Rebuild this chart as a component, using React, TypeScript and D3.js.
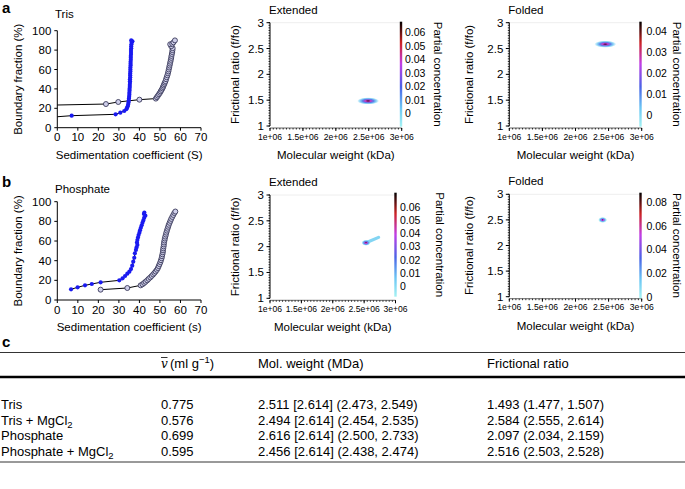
import React from "react";
import * as d3 from "d3";

const FONT = "'Liberation Sans', Arial, Helvetica, sans-serif";

// ---------- Sedimentation (boundary fraction) data ----------
const sTicks = [0, 10, 20, 30, 40, 50, 60, 70];
const fTicks = [0, 20, 40, 60, 80, 100];

const trisBlueIntercept = 11.3;
const trisOpenIntercept = 23.4;
const trisBlue: [number, number][] = [
  [7, 12.4], [28.4, 13.8], [30.7, 15.5], [32.6, 17.2], [33.6, 19], [34, 20.5], [34.3, 22], [34.5, 24],
  [34.7, 26], [34.8, 28], [34.9, 30], [35, 32], [35.1, 34], [35.1, 36], [35.2, 38], [35.2, 40],
  [35.3, 42], [35.3, 44], [35.4, 46], [35.4, 48], [35.4, 50], [35.5, 52], [35.5, 54], [35.5, 56],
  [35.6, 58], [35.6, 60], [35.6, 62], [35.7, 64], [35.7, 66], [35.7, 68], [35.8, 70], [35.8, 72],
  [35.8, 74], [35.9, 76], [35.9, 78], [35.9, 80], [36, 82], [36, 84], [36.1, 86], [36.3, 88],
  [36.6, 89], [36, 90],
];
const trisOpen: [number, number][] = [
  [23.7, 24.4], [29.7, 26.5], [40, 28.9], [48, 30], [48.5, 31.5], [49, 33], [49.5, 34.5], [50, 36],
  [50.4, 37.5], [50.8, 39], [51.2, 40.5], [51.5, 42], [51.8, 43.5], [52.1, 45], [52.4, 46.5],
  [52.7, 48], [53, 50], [53.3, 52], [53.6, 54], [53.9, 56], [54.1, 58], [54.3, 60], [54.5, 62],
  [54.7, 64], [54.9, 66], [55.1, 68], [55.3, 70], [55.5, 72], [55.6, 74], [55.8, 76], [56, 78],
  [56.1, 80], [56.2, 82], [55.5, 84], [55, 86], [56, 86.5], [56.6, 88], [57.3, 90],
];
const phosBlue: [number, number][] = [
  [6.7, 10.9], [9.9, 12.9], [13.5, 14.9], [16.8, 16.3], [21.1, 18], [30.2, 20], [31.8, 22],
  [33, 24.4], [34.1, 26.8], [35.1, 28.8], [35.9, 31.5], [36.5, 34.9], [37, 39], [37.5, 43],
  [37.8, 47.5], [38.3, 50.9], [38.6, 53.5], [39, 56], [38.8, 58.5], [39, 61], [39.3, 63.5],
  [39.6, 66], [40, 68.5], [40.3, 71], [40.7, 73.5], [41.1, 76], [41.5, 78.5], [41.9, 81],
  [42.3, 83.5], [42.9, 85.8], [42.2, 87.5], [42.4, 89],
];
const phosOpen: [number, number][] = [
  [21.1, 10.5], [34.1, 12.2], [40.6, 14.9], [41.5, 16], [42.3, 17.3], [43, 18.6], [43.8, 20],
  [44.5, 21.5], [45.3, 23], [46, 24.5], [46.7, 26], [47.3, 27.5], [47.9, 29], [48.5, 30.7],
  [49, 32.5], [49.4, 34.5], [49.8, 36.5], [50.2, 38.5], [50.5, 40.5], [50.8, 42.5], [51, 44.5],
  [51.2, 46.5], [51.4, 48.5], [51.5, 50.5], [51.6, 52.5], [51.8, 54.5], [51.9, 56.5], [52, 58.5],
  [52.2, 60.5], [52.4, 62.5], [52.6, 64.5], [52.9, 66.5], [53.1, 68.5], [53.4, 70.5], [53.7, 72.5],
  [54, 74.5], [54.3, 76.5], [54.7, 78.5], [55.1, 80.5], [55.5, 82.5], [56, 84.5], [56.5, 86.5],
  [57, 88.5], [57.5, 90],
];

// ---------- 2DSA pseudo-3D data ----------
const mwTicks = [1e6, 1.5e6, 2e6, 2.5e6, 3e6];
const mwTickLabels = ["1e+06", "1.5e+06", "2e+06", "2.5e+06", "3e+06"];
const ffTicks = [1, 1.5, 2, 2.5, 3];
const ffTickLabels = ["1", "1.5", "2", "2.5", "3"];

const spotMW = [2.49e6, 2.45e6, 2.53e6, 2.41e6];
const spotFF = [1.485, 2.585, 2.075, 2.5];
const spotPeak = [0.066, 0.043, 0.068, 0.085];
const phosExtRidgeMW = [2.53e6, 2.73e6];
const phosExtRidgeFF = [2.075, 2.18];

const cbMin = [-0.0099, -0.0056, -0.0081, -0.0014];
const cbMax = [0.0679, 0.0443, 0.0706, 0.0881];
const cbTicks = [
  [0, 0.01, 0.02, 0.03, 0.04, 0.05, 0.06],
  [0, 0.01, 0.02, 0.03, 0.04],
  [0, 0.01, 0.02, 0.03, 0.04, 0.05, 0.06],
  [0, 0.02, 0.04, 0.06, 0.08],
];
const cbTickLabels = [
  ["0", "0.01", "0.02", "0.03", "0.04", "0.05", "0.06"],
  ["0", "0.01", "0.02", "0.03", "0.04"],
  ["0", "0.01", "0.02", "0.03", "0.04", "0.05", "0.06"],
  ["0", "0.02", "0.04", "0.06", "0.08"],
];
const cmapStops = [0, 0.18, 0.38, 0.6, 0.8, 1];
const cmapColors = ["#a6f2f2", "#6cc6f4", "#4a63e6", "#c23ee6", "#cc2323", "#000000"];

// ---------- Table ----------
const tableRows = ["Tris", "Tris + MgCl", "Phosphate", "Phosphate + MgCl"];
const tableRowSub = [false, true, false, true];
const vbar = ["0.775", "0.576", "0.699", "0.595"];
const molWeight = [
  "2.511 [2.614] (2.473, 2.549)",
  "2.494 [2.614] (2.454, 2.535)",
  "2.616 [2.614] (2.500, 2.733)",
  "2.456 [2.614] (2.438, 2.474)",
];
const fricRatio = [
  "1.493 (1.477, 1.507)",
  "2.584 (2.555, 2.614)",
  "2.097 (2.034, 2.159)",
  "2.516 (2.503, 2.528)",
];

type SedProps = {
  top: number; bottom: number; title: string; xTitle: string; letter: string; letterY: number;
  titleY: number; blue: [number, number][]; open: [number, number][];
  blueStart?: number; openStart?: number;
};

function SedPlot(p: SedProps) {
  const x = d3.scaleLinear().domain([0, 70]).range([57.3, 201]);
  const y = d3.scaleLinear().domain([0, 100]).range([p.bottom, p.top]);
  const line = d3.line<[number, number]>().x((d) => x(d[0])).y((d) => y(d[1]));
  const bl: [number, number][] = p.blueStart !== undefined ? [[0, p.blueStart], ...p.blue] : p.blue;
  const ol: [number, number][] = p.openStart !== undefined ? [[0, p.openStart], ...p.open] : p.open;
  return (
    <g>
      <text x={2} y={p.letterY} fontSize={15} fontWeight="bold" fontFamily={FONT}>{p.letter}</text>
      <text x={55} y={p.titleY} fontSize={11.5} fontFamily={FONT}>{p.title}</text>
      <line x1={x(0)} x2={x(0)} y1={y(0)} y2={y(100)} stroke="#000" />
      <line x1={x(0)} x2={x(70)} y1={y(0)} y2={y(0)} stroke="#000" />
      {fTicks.map((t) => (
        <g key={"f" + t}>
          <line x1={x(0) - 3} x2={x(0)} y1={y(t)} y2={y(t)} stroke="#000" />
          <text x={x(0) - 6} y={y(t) + 4} textAnchor="end" fontSize={11.5} fontFamily={FONT}>{t}</text>
        </g>
      ))}
      {sTicks.map((t) => (
        <g key={"s" + t}>
          <line x1={x(t)} x2={x(t)} y1={y(0)} y2={y(0) + 3} stroke="#000" />
          <text x={x(t)} y={y(0) + 13.5} textAnchor="middle" fontSize={11.5} fontFamily={FONT}>{t}</text>
        </g>
      ))}
      <text x={x(35)} y={y(0) + 31} textAnchor="middle" fontSize={11.5} fontFamily={FONT}>{p.xTitle}</text>
      <text transform={`translate(22,${(y(0) + y(100)) / 2}) rotate(-90)`} textAnchor="middle" fontSize={11.5} fontFamily={FONT}>
        Boundary fraction (%)
      </text>
      <path d={line(ol) || ""} fill="none" stroke="#000" strokeWidth={1} />
      <path d={line(bl) || ""} fill="none" stroke="#000" strokeWidth={1} />
      {p.open.map((d, i) => (
        <circle key={"o" + i} cx={x(d[0])} cy={y(d[1])} r={2.5} fill="#cfcfea" stroke="#3a3a5a" strokeWidth={0.9} />
      ))}
      {p.blue.map((d, i) => (
        <circle key={"b" + i} cx={x(d[0])} cy={y(d[1])} r={2.1} fill="#1a1af0" />
      ))}
    </g>
  );
}

type HeatProps = {
  idx: number; left: number; right: number; top: number; bottom: number;
  cbTop: number; cbBottom: number; cbX: number; cbLabelX: number; pcX: number;
  title: string; yTitleX: number; ridge?: boolean;
};

function HeatPlot(p: HeatProps) {
  const i = p.idx;
  const x = d3.scaleLinear().domain([1e6, 3e6]).range([p.left, p.right]);
  const y = d3.scaleLinear().domain([1, 3]).range([p.bottom, p.top]);
  const cy = d3.scaleLinear().domain([cbMin[i], cbMax[i]]).range([p.cbBottom, p.cbTop]);
  const frac = d3.scaleLinear().domain([cbMin[i], cbMax[i]]).range([0, 1]).clamp(true);
  const cmap = d3.scaleLinear<string>().domain(cmapStops).range(cmapColors).interpolate(d3.interpolateRgb);
  const col = (v: number) => cmap(frac(v));
  const gid = "cb" + i;
  const sid = "sp" + i;
  const mid = (p.left + p.right) / 2;
  const minorX = d3.range(0, 41).map((k) => 1e6 + k * 0.05e6);
  const minorY = d3.range(0, 41).map((k) => 1 + k * 0.05);
  const peak = spotPeak[i];
  const small = p.ridge || i === 3;
  return (
    <g>
      <defs>
        <linearGradient id={gid} x1="0" y1="1" x2="0" y2="0">
          {cmapStops.map((s, k) => (
            <stop key={k} offset={s} stopColor={cmapColors[k]} />
          ))}
        </linearGradient>
        <radialGradient id={sid} cx="50%" cy="50%" r="50%">
          <stop offset="0" stopColor={col(peak)} stopOpacity={1} />
          <stop offset="0.25" stopColor={col(peak * 0.6)} stopOpacity={1} />
          <stop offset="0.5" stopColor={col(peak * 0.25)} stopOpacity={0.95} />
          <stop offset="0.75" stopColor={col(peak * 0.05)} stopOpacity={0.8} />
          <stop offset="1" stopColor={col(0)} stopOpacity={0} />
        </radialGradient>
      </defs>
      <text x={p.left - 1} y={p.top - 9} fontSize={11.5} fontFamily={FONT}>{p.title}</text>
      <line x1={p.left} x2={p.right} y1={p.top} y2={p.top} stroke="#eee" />
      <line x1={p.left} x2={p.left} y1={p.bottom} y2={p.top} stroke="#000" />
      <line x1={p.left} x2={p.right} y1={p.bottom + 2} y2={p.bottom + 2} stroke="#000" strokeWidth={0.6} />
      {minorY.map((t, k) => (
        <line key={"my" + k} x1={p.left - 1.5} x2={p.left} y1={y(t)} y2={y(t)} stroke="#000" strokeWidth={0.8} />
      ))}
      {ffTicks.map((t, k) => (
        <g key={"ff" + k}>
          <line x1={p.left - 3.5} x2={p.left} y1={y(t)} y2={y(t)} stroke="#000" />
          <text x={p.left - 6} y={y(t) + 4} textAnchor="end" fontSize={11.5} fontFamily={FONT}>{ffTickLabels[k]}</text>
        </g>
      ))}
      {minorX.map((t, k) => (
        <line key={"mx" + k} x1={x(t)} x2={x(t)} y1={p.bottom + 2} y2={p.bottom + 3.5} stroke="#000" strokeWidth={0.8} />
      ))}
      {mwTicks.map((t, k) => (
        <g key={"mw" + k}>
          <line x1={x(t)} x2={x(t)} y1={p.bottom + 2} y2={p.bottom + 5} stroke="#000" />
          <text x={x(t)} y={p.bottom + 13.5} textAnchor="middle" fontSize={8.6} fontFamily={FONT}>{mwTickLabels[k]}</text>
        </g>
      ))}
      <text x={mid} y={p.bottom + 33} textAnchor="middle" fontSize={11.5} fontFamily={FONT}>Molecular weight (kDa)</text>
      <text transform={`translate(${p.yTitleX},${(p.top + p.bottom) / 2}) rotate(-90)`} textAnchor="middle" fontSize={11.5} fontFamily={FONT}>
        Frictional ratio (f/fo)
      </text>
      <rect x={p.cbX - 1.2} y={p.cbTop} width={2.4} height={p.cbBottom - p.cbTop} fill={`url(#${gid})`} />
      {cbTicks[i].map((t, k) => (
        <text key={"cb" + k} x={p.cbLabelX} y={cy(t) + 4} fontSize={10.5} fontFamily={FONT}>{cbTickLabels[i][k]}</text>
      ))}
      <text transform={`translate(${p.pcX},${(p.cbTop + p.cbBottom) / 2}) rotate(90)`} textAnchor="middle" fontSize={11.5} fontFamily={FONT}>
        Partial concentration
      </text>
      {p.ridge && (
        <line x1={x(phosExtRidgeMW[0])} y1={y(phosExtRidgeFF[0])} x2={x(phosExtRidgeMW[1])} y2={y(phosExtRidgeFF[1])}
          stroke={col(0.002)} strokeWidth={3.2} strokeLinecap="round" opacity={0.95} />
      )}
      <ellipse cx={x(spotMW[i])} cy={y(spotFF[i])} rx={small ? 4.5 : 11} ry={small ? 3 : 3.6} fill={`url(#${sid})`} />
    </g>
  );
}

function Table() {
  const top = 352.5;
  const thick = 377;
  const bottom = 462;
  const rowY = [409, 424.5, 440, 455.5];
  const cx = [1, 161, 258, 487];
  return (
    <g fontFamily={FONT} fontSize={13}>
      <text x={2} y={347} fontSize={15} fontWeight="bold">c</text>
      <line x1={0} x2={685} y1={top} y2={top} stroke="#000" strokeWidth={0.8} />
      <line x1={0} x2={685} y1={thick} y2={thick} stroke="#000" strokeWidth={2.6} />
      <line x1={0} x2={685} y1={bottom} y2={bottom} stroke="#000" strokeWidth={0.8} />
      <text x={cx[1]} y={368} fontFamily="'DejaVu Serif', 'Liberation Serif', serif" fontStyle="italic" fontSize={12}>v</text>
      <line x1={cx[1]} x2={cx[1] + 6.5} y1={357.5} y2={357.5} stroke="#000" strokeWidth={0.8} />
      <text x={cx[1] + 9} y={368}>
        (ml g<tspan dy={-5} fontSize={9.5}>−1</tspan><tspan dy={5}>)</tspan>
      </text>
      <text x={cx[2]} y={368}>Mol. weight (MDa)</text>
      <text x={cx[3]} y={368}>Frictional ratio</text>
      {tableRows.map((r, k) => (
        <g key={k}>
          <text x={cx[0]} y={rowY[k]}>
            {r}
            {tableRowSub[k] && <tspan dy={3} fontSize={9.5}>2</tspan>}
          </text>
          <text x={cx[1]} y={rowY[k]}>{vbar[k]}</text>
          <text x={cx[2]} y={rowY[k]}>{molWeight[k]}</text>
          <text x={cx[3]} y={rowY[k]}>{fricRatio[k]}</text>
        </g>
      ))}
    </g>
  );
}

export default function App() {
  return (
    <svg width={685} height={489} style={{ display: "block", position: "absolute", left: 0, top: 0, background: "#fff" }}>
      <rect width={685} height={489} fill="#fff" />
      <SedPlot top={30.7} bottom={127.7} title="Tris" xTitle="Sedimentation coefficient (S)" letter="a" letterY={13}
        titleY={18} blue={trisBlue} open={trisOpen} blueStart={trisBlueIntercept} openStart={trisOpenIntercept} />
      <SedPlot top={201.7} bottom={300} title="Phosphate" xTitle="Sedimentation coefficient (s)" letter="b" letterY={187}
        titleY={193} blue={phosBlue} open={phosOpen} />
      <HeatPlot idx={0} left={270} right={401.7} top={22.7} bottom={126} cbTop={21.7} cbBottom={126.7} cbX={401}
        cbLabelX={405} pcX={434} title="Extended" yTitleX={239} />
      <HeatPlot idx={1} left={509.3} right={641.7} top={22.7} bottom={126} cbTop={21.7} cbBottom={126.7} cbX={640.5}
        cbLabelX={646.5} pcX={673} title="Folded" yTitleX={473} />
      <HeatPlot idx={2} left={270} right={395.5} top={195} bottom={298.3} cbTop={192.7} cbBottom={296.7} cbX={395.5}
        cbLabelX={400} pcX={436} title="Extended" yTitleX={239} ridge />
      <HeatPlot idx={3} left={509.3} right={641.7} top={194.3} bottom={296.7} cbTop={192.7} cbBottom={298.3} cbX={640.5}
        cbLabelX={646.5} pcX={673} title="Folded" yTitleX={473} />
      <Table />
    </svg>
  );
}
